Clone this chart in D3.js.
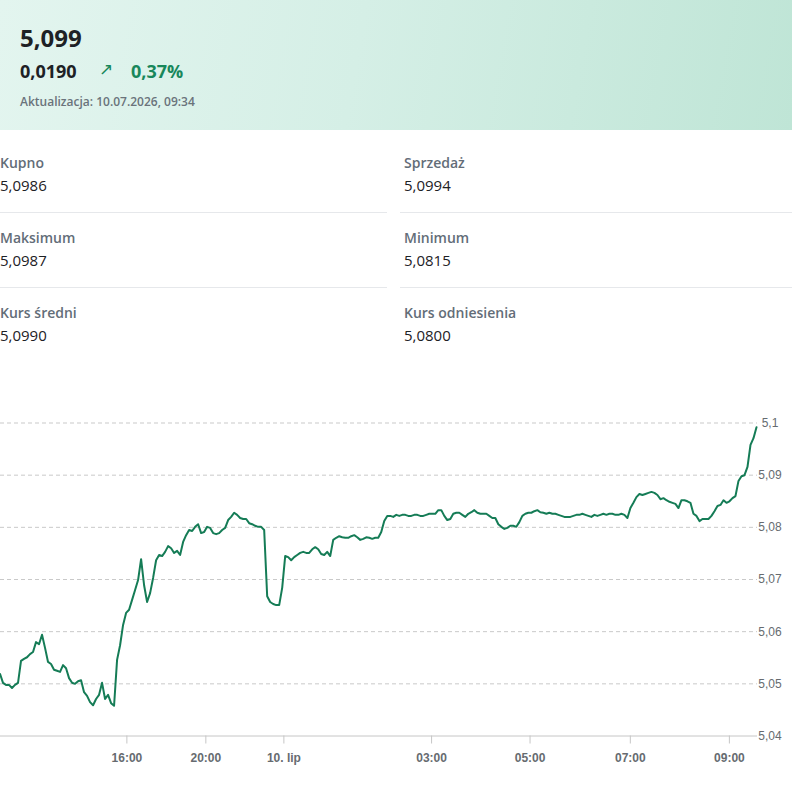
<!DOCTYPE html>
<html lang="pl">
<head>
<meta charset="utf-8">
<script src="https://cdn.jsdelivr.net/npm/d3@7"></script>
<style>
    html, body { margin: 0; padding: 0; background: #fff; }
    body {
        width: 792px; height: 790px; position: relative; overflow: hidden;
        font-family: "Open Sans", "Noto Sans", sans-serif; color: #1f2328;
    }
    .quote-head {
        position: absolute; left: 0; top: 0; width: 792px; height: 130px;
        background: linear-gradient(100deg, #e3f5ef 0%, #d5efe6 45%, #bfe5d6 100%);
    }
    .quote-head div { position: absolute; white-space: nowrap; line-height: 1; }
    .price { left: 20px; top: 26px; font-size: 24px; font-weight: 700; color: #1d2125; }
    .change { left: 20px; top: 62px; font-size: 18px; font-weight: 700; color: #1d2125; }
    .arrow { left: 99px; top: 61px; font-size: 17px; color: #18875b; font-family: "DejaVu Sans", sans-serif; }
    .percent { left: 131px; top: 62px; font-size: 18px; font-weight: 700; color: #18875b; }
    .updated { left: 20px; top: 96px; font-size: 12px; font-weight: 600; color: #6a737b; }
    .stat { position: absolute; white-space: nowrap; line-height: 1; }
    .stat-label { font-size: 14px; font-weight: 600; color: #636d78; }
    .stat-value { font-size: 15px; font-weight: 500; color: #1d2125; }
    .stat-rule { position: absolute; height: 1px; background: #e6e8eb; }
    #chart { position: absolute; left: 0; top: 390px; }
</style>
</head>
<body>
<div class="quote-head">
    <div class="price" id="price"></div>
    <div class="change" id="change"></div>
    <div class="arrow">↗</div>
    <div class="percent" id="percent"></div>
    <div class="updated" id="updated"></div>
</div>
<div id="stats"></div>
<div id="chart"></div>
<script>
const quotePrice = "5,099";
const quoteChange = "0,0190";
const quotePercent = "0,37%";
const quoteUpdated = "Aktualizacja: 10.07.2026, 09:34";

const statLabels = ["Kupno", "Sprzedaż", "Maksimum", "Minimum", "Kurs średni", "Kurs odniesienia"];
const statValues = ["5,0986", "5,0994", "5,0987", "5,0815", "5,0990", "5,0800"];

// ordinal axis: points are evenly spaced, so the night hours are compressed
const prices = [
    5.0518, 5.0501, 5.0497, 5.0497, 5.0491, 5.0497, 5.0501, 5.0543, 5.0547, 5.0550,
    5.0556, 5.0560, 5.0579, 5.0575, 5.0593, 5.0568, 5.0541, 5.0537, 5.0526, 5.0524,
    5.0522, 5.0535, 5.0529, 5.0510, 5.0501, 5.0499, 5.0504, 5.0506, 5.0483, 5.0476,
    5.0464, 5.0458, 5.0470, 5.0478, 5.0501, 5.0470, 5.0478, 5.0462, 5.0457, 5.0545,
    5.0573, 5.0612, 5.0635, 5.0641, 5.0660, 5.0679, 5.0698, 5.0738, 5.0688, 5.0656,
    5.0673, 5.0702, 5.0736, 5.0746, 5.0744, 5.0752, 5.0763, 5.0759, 5.0750, 5.0754,
    5.0746, 5.0771, 5.0784, 5.0794, 5.0792, 5.0800, 5.0805, 5.0788, 5.0790, 5.0800,
    5.0798, 5.0788, 5.0786, 5.0788, 5.0794, 5.0798, 5.0813, 5.0819, 5.0827, 5.0823,
    5.0817, 5.0815, 5.0815, 5.0807, 5.0805, 5.0802, 5.0800, 5.0800, 5.0794, 5.0667,
    5.0656, 5.0652, 5.0650, 5.0650, 5.0683, 5.0744, 5.0742, 5.0736, 5.0742, 5.0746,
    5.0750, 5.0752, 5.0750, 5.0750, 5.0757, 5.0761, 5.0757, 5.0748, 5.0746, 5.0752,
    5.0744, 5.0775, 5.0779, 5.0782, 5.0780, 5.0779, 5.0779, 5.0782, 5.0784, 5.0780,
    5.0775, 5.0777, 5.0780, 5.0779, 5.0777, 5.0779, 5.0779, 5.0790, 5.0811, 5.0821,
    5.0821, 5.0819, 5.0823, 5.0821, 5.0823, 5.0823, 5.0821, 5.0821, 5.0823, 5.0823,
    5.0821, 5.0821, 5.0823, 5.0825, 5.0825, 5.0825, 5.0832, 5.0832, 5.0821, 5.0813,
    5.0815, 5.0825, 5.0827, 5.0827, 5.0823, 5.0819, 5.0825, 5.0828, 5.0832, 5.0827,
    5.0825, 5.0825, 5.0825, 5.0821, 5.0817, 5.0817, 5.0805, 5.0800, 5.0796, 5.0798,
    5.0802, 5.0802, 5.0800, 5.0809, 5.0821, 5.0825, 5.0827, 5.0827, 5.0830, 5.0832,
    5.0828, 5.0827, 5.0825, 5.0827, 5.0825, 5.0825, 5.0823, 5.0821, 5.0819, 5.0819,
    5.0819, 5.0821, 5.0823, 5.0823, 5.0825, 5.0823, 5.0821, 5.0819, 5.0823, 5.0821,
    5.0823, 5.0825, 5.0823, 5.0825, 5.0825, 5.0823, 5.0823, 5.0825, 5.0823, 5.0817,
    5.0836, 5.0846, 5.0857, 5.0863, 5.0861, 5.0863, 5.0865, 5.0867, 5.0865, 5.0861,
    5.0853, 5.0855, 5.0851, 5.0848, 5.0846, 5.0844, 5.0836, 5.0851, 5.0851, 5.0849,
    5.0846, 5.0825, 5.0821, 5.0811, 5.0815, 5.0815, 5.0815, 5.0821, 5.0830, 5.0840,
    5.0842, 5.0851, 5.0846, 5.0849, 5.0855, 5.0859, 5.0888, 5.0897, 5.0899, 5.0915,
    5.0957, 5.0970, 5.0991,
];

const tickLabels = ["16:00", "20:00", "10. lip", "03:00", "05:00", "07:00", "09:00"];
const tickSlots = [42.1, 68.4, 94.4, 143.6, 176.4, 209.8, 242.8];
const yTicks = [5.04, 5.05, 5.06, 5.07, 5.08, 5.09, 5.1];

function renderHeader() {
    d3.select("#price").text(quotePrice);
    d3.select("#change").text(quoteChange);
    d3.select("#percent").text(quotePercent);
    d3.select("#updated").text(quoteUpdated);
}

function renderStats() {
    const stats = d3.select("#stats");
    const rowPitch = 75;
    statLabels.forEach((label, index) => {
        const row = Math.floor(index / 2);
        const left = index % 2 === 0 ? 0 : 404;
        const top = 156 + row * rowPitch;
        stats.append("div")
            .attr("class", "stat stat-label")
            .style("left", `${left}px`)
            .style("top", `${top}px`)
            .text(label);
        stats.append("div")
            .attr("class", "stat stat-value")
            .style("left", `${left}px`)
            .style("top", `${top + 22}px`)
            .text(statValues[index]);
        if (row < 2) {
            stats.append("div")
                .attr("class", "stat-rule")
                .style("left", index % 2 === 0 ? "0px" : "400px")
                .style("width", index % 2 === 0 ? "387px" : "392px")
                .style("top", `${top + 56}px`);
        }
    });
}

function renderChart() {
    const outerWidth = 792;
    const outerHeight = 400;
    const margin = {top: 32.5, right: 35, bottom: 54.5, left: 0};
    const width = outerWidth - margin.left - margin.right;
    const height = outerHeight - margin.top - margin.bottom;

    const svg = d3.select("#chart")
        .append("svg")
        .attr("width", outerWidth)
        .attr("height", outerHeight)
        .style("font-family", '"Open Sans", "Noto Sans", sans-serif');

    const plot = svg.append("g")
        .attr("transform", `translate(${margin.left}, ${margin.top})`);

    const x = d3.scaleLinear()
        .domain([0, prices.length - 1])
        .range([0, width - 0.5]);
    const y = d3.scaleLinear()
        .domain([5.04, 5.1])
        .range([height, 0]);
    const plLocale = d3.formatLocale({decimal: ",", thousands: " ", grouping: [3], currency: ["", " zł"]});
    const yFormat = plLocale.format("~g");

    plot.append("g")
        .attr("class", "grid")
        .call(d3.axisLeft(y).tickValues(yTicks.slice(1)).tickSize(-width).tickFormat(""))
        .call((g) => g.select(".domain").remove())
        .call((g) => g.selectAll("line")
            .attr("stroke", "#c9c9c9")
            .attr("stroke-dasharray", "4 3"));

    plot.append("g")
        .attr("transform", `translate(0, ${height})`)
        .call(d3.axisBottom(x)
            .tickValues(tickSlots)
            .tickSize(8)
            .tickPadding(10)
            .tickFormat((d, i) => tickLabels[i]))
        .call((g) => g.select(".domain")
            .attr("d", `M0,0.5H${width}`)
            .attr("stroke", "#c6c6c6"))
        .call((g) => g.selectAll(".tick line").attr("stroke", "#c6c6c6"))
        .call((g) => g.selectAll("text")
            .attr("fill", "#666b70")
            .attr("font-size", 12)
            .attr("font-weight", 600));

    // value labels sit centred just right of the plot
    plot.append("g")
        .attr("transform", `translate(${width + 13}, 0)`)
        .call(d3.axisRight(y).tickValues(yTicks).tickSize(0).tickPadding(0).tickFormat(yFormat))
        .call((g) => g.select(".domain").remove())
        .call((g) => g.selectAll("text")
            .attr("text-anchor", "middle")
            .attr("fill", "#666b70")
            .attr("font-size", 12));

    const priceLine = d3.line()
        .x((d, i) => x(i))
        .y((d) => y(d));

    plot.append("path")
        .datum(prices)
        .attr("fill", "none")
        .attr("stroke", "#157c56")
        .attr("stroke-width", 2)
        .attr("stroke-linejoin", "round")
        .attr("stroke-linecap", "round")
        .attr("d", priceLine);
}

renderHeader();
renderStats();
renderChart();
</script>
</body>
</html>
